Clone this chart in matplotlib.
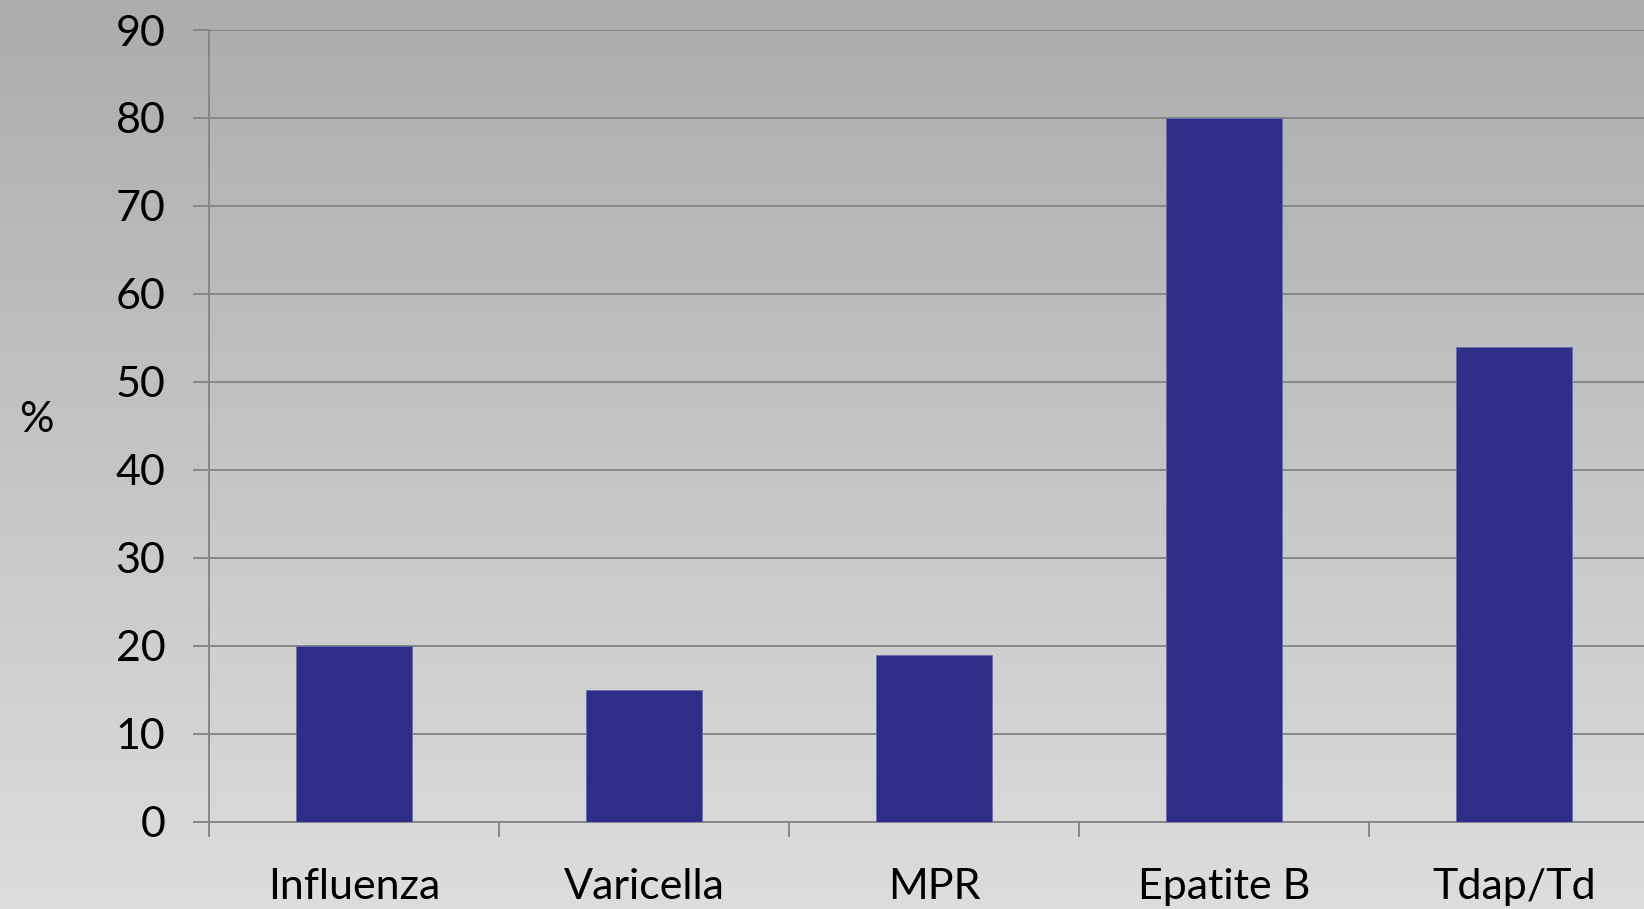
import numpy as np
import matplotlib
matplotlib.use("Agg")
import matplotlib.pyplot as plt

categories = ["Influenza", "Varicella", "MPR", "Epatite B", "Tdap/Td"]
values = [20, 15, 19, 80, 54]
yticks = [0, 10, 20, 30, 40, 50, 60, 70, 80, 90]
ylabel = "%"

plt.rcParams['font.family'] = ['Lato', 'DejaVu Sans']

W, H, DPI = 1644, 909, 100
fig = plt.figure(figsize=(W / DPI, H / DPI), dpi=DPI)

# background gradient
bg = fig.add_axes([0, 0, 1, 1], zorder=-10)
grad = np.linspace(0, 1, 256).reshape(-1, 1)
top_c = np.array([172, 172, 172]) / 255
bot_c = np.array([221, 221, 221]) / 255
img = top_c[None, None, :] * (1 - grad[:, :, None]) + bot_c[None, None, :] * grad[:, :, None]
bg.imshow(img, aspect='auto', extent=[0, 1, 0, 1], origin='upper')
bg.set_axis_off()

left = 209 / W
bottom = 1 - 821.7 / H
top = 1 - 30 / H
ax = fig.add_axes([left, bottom, 1450 / W, top - bottom])
ax.set_facecolor('none')

x = np.arange(len(categories))
ax.bar(x, values, width=0.4, color='#2E2D87', edgecolor='#6B6BB0', linewidth=0.6, zorder=3)

ax.set_xlim(-0.5, len(categories) - 0.5)
ax.set_ylim(0, 90)
ax.set_yticks(yticks)
ax.yaxis.grid(True, color='#878787', linewidth=1.4, zorder=0)
ax.set_axisbelow(True)

for s in ['top', 'right']:
    ax.spines[s].set_visible(False)
for s in ['left', 'bottom']:
    ax.spines[s].set_color('#878787')
    ax.spines[s].set_linewidth(1.4)

ax.tick_params(axis='y', direction='out', length=11.5, width=1.4, color='#878787',
               labelsize=31, pad=20, labelcolor='black')
ax.set_xticks(x)
ax.set_xticklabels(categories)
ax.tick_params(axis='x', which='major', length=0, labelsize=31, pad=33, labelcolor='black')
ax.set_xticks(np.arange(-0.5, len(categories) + 0.5, 1), minor=True)
ax.tick_params(axis='x', which='minor', direction='out', length=11, width=1.4, color='#878787')

fig.text(36 / W, 1 - 420 / H, ylabel, fontsize=31, ha='center', va='center')

fig.savefig('out.png', dpi=DPI)
